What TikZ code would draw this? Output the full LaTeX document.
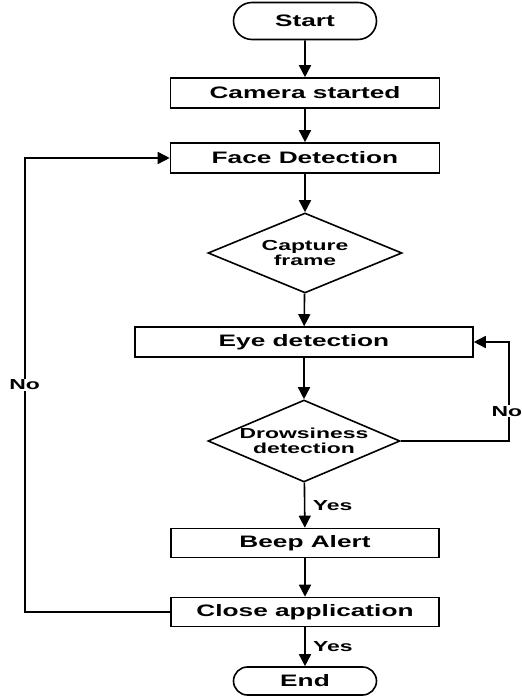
\documentclass[tikz,border=0pt]{standalone}
\usepackage{fontspec}
\setmainfont{Liberation Sans}[FakeStretch=1.58]
\usetikzlibrary{arrows.meta,shapes.geometric,shapes.misc}

\begin{document}
\begin{tikzpicture}[->,>={Triangle[length=12pt,width=12pt]},x=1pt,y=1pt,line width=1.6pt,
  box node/.style={rectangle,draw,fill=white,minimum width=269pt,minimum height=30pt,inner sep=0pt,font=\fontsize{16.6}{19}\selectfont\bfseries},
  test node/.style={diamond,draw,fill=white,aspect=2.4,inner sep=0pt,align=center,font=\fontsize{14.5}{15}\selectfont\bfseries},
  term node/.style={rounded rectangle,draw,fill=white,minimum width=143pt,inner sep=0pt,font=\fontsize{16.6}{19}\selectfont\bfseries},
  label node/.style={font=\fontsize{14.5}{17}\selectfont\bfseries}]
\useasboundingbox (0,0) rectangle (522,696);

% Main column
  \node[term node,minimum height=37pt] (start) at (305,675) {Start};
  \node[box node] (camera) at (305,603) {Camera started};
  \node[box node] (face) at (305,538) {Face Detection};
  \node[test node,minimum width=194pt,minimum height=80pt] (capture) at (305,443) {Capture\\frame};
  \node[box node,minimum width=338pt] (eye) at (304,354) {Eye detection};
  \node[test node,minimum width=192pt,minimum height=82pt] (drowsy) at (304,255) {Drowsiness\\detection};
  \node[box node,minimum width=268pt,minimum height=29pt] (beep) at (305,153) {Beep Alert};
  \node[box node,minimum width=268pt,minimum height=29pt] (close) at (305,84) {Close application};
  \node[term node,minimum height=28pt] (stop) at (305,15) {End};

  \path
    (start) edge (camera)
    (camera) edge (face)
    (face) edge (capture)
    (capture) edge (eye)
    (eye) edge (drowsy)
    (drowsy) edge node[label node,right,xshift=4pt] {Yes} (beep)
    (beep) edge (close)
    (close) edge node[label node,right,xshift=4pt] {Yes} (stop);

% back loops
  \draw (close.west) -| node[label node,pos=0.75,fill=white,inner sep=1pt] {No} ([xshift=-145pt]face.west) -- (face.west);
  \draw (drowsy.east) -| node[label node,pos=0.65,fill=white,inner sep=1pt,xshift=-2pt] {No} ([xshift=35pt]eye.east) -- (eye.east);

\end{tikzpicture}
\end{document}
